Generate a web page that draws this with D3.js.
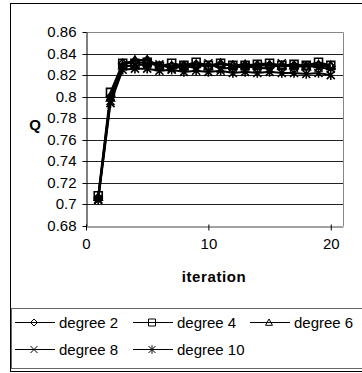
<!DOCTYPE html>
<html>
<head>
<meta charset="utf-8">
<script src="https://d3js.org/d3.v7.min.js"></script>
<style>
body { margin: 0; background: #fff; }
svg text { font-family: "Liberation Sans", Arial, sans-serif; fill: #000; }
</style>
</head>
<body>
<svg width="362" height="373"></svg>
<script>
// iterations 1..20
var iterations = d3.range(1, 21);

var seriesNames = ["degree 2", "degree 4", "degree 6", "degree 8", "degree 10"];

var deg2  = [0.706, 0.800, 0.831, 0.833, 0.834, 0.829, 0.828, 0.829, 0.830, 0.828, 0.830, 0.829, 0.828, 0.829, 0.829, 0.828, 0.829, 0.828, 0.829, 0.828];
var deg4  = [0.708, 0.804, 0.831, 0.831, 0.832, 0.828, 0.831, 0.829, 0.832, 0.829, 0.831, 0.829, 0.829, 0.830, 0.831, 0.829, 0.830, 0.829, 0.832, 0.829];
var deg6  = [0.707, 0.799, 0.829, 0.834, 0.834, 0.828, 0.829, 0.828, 0.830, 0.828, 0.831, 0.829, 0.830, 0.829, 0.830, 0.829, 0.829, 0.828, 0.830, 0.829];
var deg8  = [0.705, 0.796, 0.828, 0.829, 0.830, 0.830, 0.826, 0.828, 0.827, 0.831, 0.826, 0.827, 0.828, 0.827, 0.826, 0.831, 0.827, 0.829, 0.827, 0.826];
var deg10 = [0.704, 0.794, 0.825, 0.826, 0.826, 0.824, 0.825, 0.823, 0.824, 0.823, 0.824, 0.822, 0.823, 0.822, 0.823, 0.822, 0.822, 0.821, 0.822, 0.820];

var yTicks = [0.68, 0.7, 0.72, 0.74, 0.76, 0.78, 0.8, 0.82, 0.84, 0.86];
var xTicks = [0, 10, 20];

var allSeries = [deg2, deg4, deg6, deg8, deg10];

// excel-like markers, r = half width
var diamond = { draw: function(c, r) { c.moveTo(0, -r); c.lineTo(r, 0); c.lineTo(0, r); c.lineTo(-r, 0); c.closePath(); } };
var square = { draw: function(c, r) { c.rect(-r, -r, 2 * r, 2 * r); } };
var triangle = { draw: function(c, r) { c.moveTo(0, -r); c.lineTo(r, r * 0.8); c.lineTo(-r, r * 0.8); c.closePath(); } };
var cross = { draw: function(c, r) { c.moveTo(-r, -r); c.lineTo(r, r); c.moveTo(r, -r); c.lineTo(-r, r); } };
var star = { draw: function(c, r) {
  c.moveTo(-r, -r); c.lineTo(r, r); c.moveTo(r, -r); c.lineTo(-r, r);
  c.moveTo(0, -r * 1.2); c.lineTo(0, r * 1.2);
} };
var symbols = [diamond, square, triangle, cross, star];
var symSizes = [4, 4, 4, 4, 4];

var svg = d3.select("svg");

// outer frame
svg.append("rect")
    .attr("x", 10.5).attr("y", 3.5)
    .attr("width", 352).attr("height", 368)
    .attr("fill", "none").attr("stroke", "#000");

var plot = {left: 86, right: 343, top: 32, bottom: 226};

var x = d3.scaleLinear().domain([0, 21]).range([plot.left, plot.right]);
var y = d3.scaleLinear().domain([0.68, 0.86]).range([plot.bottom, plot.top]);

// gridlines
svg.append("g").selectAll("line")
    .data(yTicks.slice(1, -1))
  .enter().append("line")
    .attr("x1", plot.left).attr("x2", plot.right)
    .attr("y1", function(d) { return Math.round(y(d)) + 0.5; })
    .attr("y2", function(d) { return Math.round(y(d)) + 0.5; })
    .attr("stroke", "#222");

// plot area border (top/right)
svg.append("path")
    .attr("d", "M" + plot.left + "," + (plot.top + 0.5) + "H" + (plot.right + 0.5) + "V" + plot.bottom)
    .attr("fill", "none").attr("stroke", "#888");

// y axis
var yAxis = svg.append("g")
    .attr("transform", "translate(" + (plot.left + 0.5) + ",0)")
    .call(d3.axisLeft(y).tickValues(yTicks).tickSize(4).tickSizeOuter(0)
      .tickFormat(function(d) { return d3.format("")(+d.toFixed(2)); }));
yAxis.select(".domain").attr("stroke", "#000");
yAxis.selectAll(".tick line").attr("stroke", "#000");
yAxis.selectAll(".tick").attr("transform", function(d) { return "translate(0," + (Math.round(y(d)) + 0.5) + ")"; });
yAxis.selectAll("text").attr("font-size", 15).attr("x", -10).attr("font-family", null);

// x axis
var xAxis = svg.append("g")
    .attr("transform", "translate(0," + (plot.bottom + 0.5) + ")")
    .call(d3.axisBottom(x).tickValues(xTicks).tickSize(4).tickSizeOuter(0));
xAxis.select(".domain").attr("stroke", "#444");
xAxis.selectAll(".tick line").attr("stroke", "#000").attr("y1", -2);
xAxis.selectAll("text").attr("font-size", 15).attr("y", 12).attr("font-family", null);

// axis titles
svg.append("text")
    .attr("x", 35).attr("y", 130)
    .attr("text-anchor", "middle")
    .attr("font-size", 15).attr("font-weight", "bold")
    .text("Q");
svg.append("text")
    .attr("x", 214).attr("y", 282)
    .attr("text-anchor", "middle")
    .attr("font-size", 15).attr("font-weight", "bold")
    .attr("letter-spacing", 0.6)
    .text("iteration");

// series
var line = d3.line()
    .x(function(d, i) { return x(iterations[i]); })
    .y(function(d) { return y(d); });

allSeries.forEach(function(s, k) {
  svg.append("path")
      .datum(s)
      .attr("d", line)
      .attr("fill", "none")
      .attr("stroke", "#000")
      .attr("stroke-width", 2);
});

allSeries.forEach(function(s, k) {
  svg.append("g").selectAll("path")
      .data(s)
    .enter().append("path")
      .attr("transform", function(d, i) { return "translate(" + x(iterations[i]) + "," + y(d) + ")"; })
      .attr("d", d3.symbol().type(symbols[k]).size(symSizes[k]))
      .attr("fill", "none")
      .attr("stroke", "#000")
      .attr("stroke-width", 1.6);
});

// legend
svg.append("rect")
    .attr("x", 11.5).attr("y", 308.5)
    .attr("width", 352).attr("height", 60)
    .attr("fill", "none").attr("stroke", "#666");

var legendPos = [[15, 322], [133, 322], [250, 322], [15, 349], [133, 349]];
var legend = svg.append("g").selectAll("g")
    .data(seriesNames)
  .enter().append("g")
    .attr("transform", function(d, i) { return "translate(" + legendPos[i][0] + "," + legendPos[i][1] + ")"; });

legend.append("line")
    .attr("x1", 0).attr("x2", 40)
    .attr("y1", 0.5).attr("y2", 0.5)
    .attr("stroke", "#000");
legend.append("path")
    .attr("transform", "translate(19,0.5)")
    .attr("d", function(d, i) { return d3.symbol().type(symbols[i]).size(3.5)(); })
    .attr("fill", "none")
    .attr("stroke", "#000");
legend.append("text")
    .attr("x", 44).attr("y", 5.5)
    .attr("font-size", 15)
    .text(function(d) { return d; });
</script>
</body>
</html>
